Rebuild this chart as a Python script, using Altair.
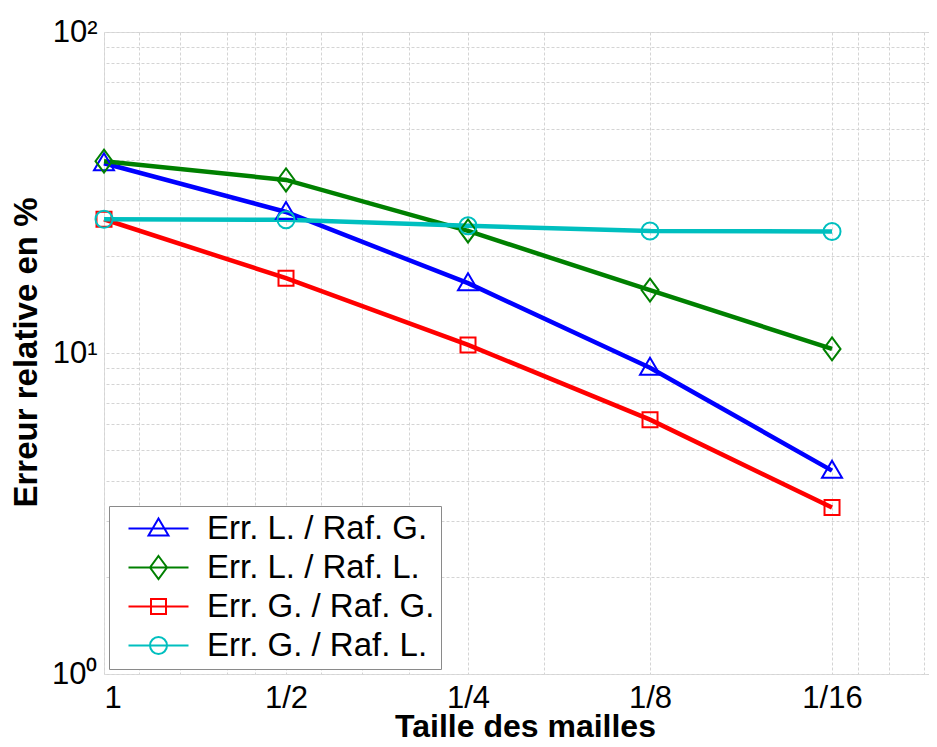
import altair as alt
import pandas as pd

# ---- data ----
h_values = [1, 0.5, 0.25, 0.125, 0.0625]
h_labels = ["1", "1/2", "1/4", "1/8", "1/16"]
series_names = ["Err. L. / Raf. G.", "Err. L. / Raf. L.", "Err. G. / Raf. G.", "Err. G. / Raf. L."]
err_LG = [39.0, 27.5, 16.5, 9.0, 4.3]
err_LL = [39.6, 34.6, 24.0, 15.7, 10.3]
err_GG = [26.1, 17.1, 10.6, 6.2, 3.3]
err_GL = [26.1, 26.0, 24.9, 24.0, 23.9]
colors = ["#0000ff", "#008000", "#ff0000", "#00bfbf"]

# axis grid values (data units)
y_grid = [1, 2, 3, 4, 5, 6, 7, 8, 9, 10, 20, 30, 40, 50, 60, 70, 80, 90, 100]
y_label_values = [1, 10, 100]
y_label_texts = ["10⁰", "10¹", "10²"]
x_grid = [1, 14 / 16, 12 / 16, 10 / 16, 9 / 16, 8 / 16, 7 / 16, 6 / 16, 5 / 16,
          4 / 16, 3 / 16, 2 / 16, 1 / 16, 0.0566, 0.0503, 0.0440]

# ---- marker shapes ----
marker_paths = [
    "M0,-1L1,0.7L-1,0.7Z",
    "M0,-1.15L0.85,0L0,1.15L-0.85,0Z",
    "M-0.75,-0.75H0.75V0.75H-0.75Z",
    "M-0.85,0A0.85,0.85,0,1,0,0.85,0A0.85,0.85,0,1,0,-0.85,0Z",
]
legend_paths = ["M-3,0H3" + p for p in marker_paths]

rows = []
for name, vals in zip(series_names, [err_LG, err_LL, err_GG, err_GL]):
    for h, v in zip(h_values, vals):
        rows.append({"h": h, "err": v, "serie": name})
df = pd.DataFrame(rows)

x_label_expr = " : ".join(
    [f"datum.value == {v} ? '{l}'" for v, l in zip(h_values, h_labels)]) + " : ''"
y_label_expr = " : ".join(
    [f"datum.value == {v} ? '{l}'" for v, l in zip(y_label_values, y_label_texts)]) + " : ''"

FONT = "Liberation Sans"
GRID = "#d4d4d4"
x_scale = alt.Scale(type="log", domain=[0.0432, 1], reverse=True, nice=False)
y_scale = alt.Scale(type="log", domain=[1, 100], nice=False)
color_scale = alt.Scale(domain=series_names, range=colors)

x_axis = alt.Axis(
    values=x_grid, labelExpr=x_label_expr, labelOverlap=False,
    labelFontSize=31, labelFont=FONT, labelColor="#000000",
    labelBaseline="alphabetic", labelPadding=33, ticks=False, tickSize=0,
    grid=True, gridColor=GRID, gridDash=[3, 2], gridWidth=1,
    domain=False,
    title="Taille des mailles", titleFont=FONT, titleFontSize=32,
    titleFontWeight="bold", titleColor="#000000", titleX=421, titleY=62,
    titleBaseline="alphabetic",
)
y_axis = alt.Axis(
    values=y_grid, labelExpr=y_label_expr, labelOverlap=False,
    labelFontSize=31, labelFont=FONT, labelColor="#000000", labelPadding=7,
    ticks=False, tickSize=0,
    grid=True, gridColor=GRID, gridDash=[3, 2], gridWidth=1,
    domain=False,
    title="Erreur relative en %", titleFont=FONT, titleFontSize=33,
    titleFontWeight="bold", titleColor="#000000",
    titleX=-68, titleY=320, titleBaseline="alphabetic",
)

base = alt.Chart(df)

lines = base.mark_line(strokeWidth=4.5).encode(
    x=alt.X("h:Q", scale=x_scale, axis=x_axis),
    y=alt.Y("err:Q", scale=y_scale, axis=y_axis),
    color=alt.Color("serie:N", scale=color_scale, sort=series_names, legend=None),
    detail="serie:N",
)

points = base.mark_point(filled=False, size=400, strokeWidth=2, opacity=1).encode(
    x=alt.X("h:Q", scale=x_scale),
    y=alt.Y("err:Q", scale=y_scale),
    color=alt.Color("serie:N", scale=color_scale, sort=series_names, legend=None),
    shape=alt.Shape("serie:N", scale=alt.Scale(domain=series_names, range=marker_paths),
                    sort=series_names, legend=None),
)

legend_props = dict(
    title=None, orient="bottom-left", offset=5, padding=6,
    fillColor="#ffffff", strokeColor="#8a8a8a",
    labelFont=FONT, labelFontSize=33, labelColor="#000000",
    labelLimit=600, symbolSize=400, symbolStrokeWidth=2,
    symbolOffset=27, labelOffset=32, rowPadding=5,
)

legend_layer = base.mark_point(filled=False, size=400, strokeWidth=2, opacity=0).encode(
    x=alt.X("h:Q", scale=x_scale),
    y=alt.Y("err:Q", scale=y_scale),
    color=alt.Color("serie:N", scale=color_scale, sort=series_names,
                    legend=alt.Legend(**legend_props)),
    shape=alt.Shape("serie:N", scale=alt.Scale(domain=series_names, range=legend_paths),
                    sort=series_names, legend=alt.Legend(**legend_props)),
)

chart = (
    alt.layer(lines, points, legend_layer)
    .resolve_scale(color="independent", shape="independent")
    .properties(
        width=825, height=642,
        autosize=alt.AutoSizeParams(type="none"),
        padding={"left": 96, "top": 24, "right": 0, "bottom": 65},
        background="#ffffff",
    )
    .configure_view(stroke="#606060", strokeWidth=1.5)
    .configure(font=FONT)
)

chart.save("out.html", embed_options={"renderer": "svg", "actions": False})
